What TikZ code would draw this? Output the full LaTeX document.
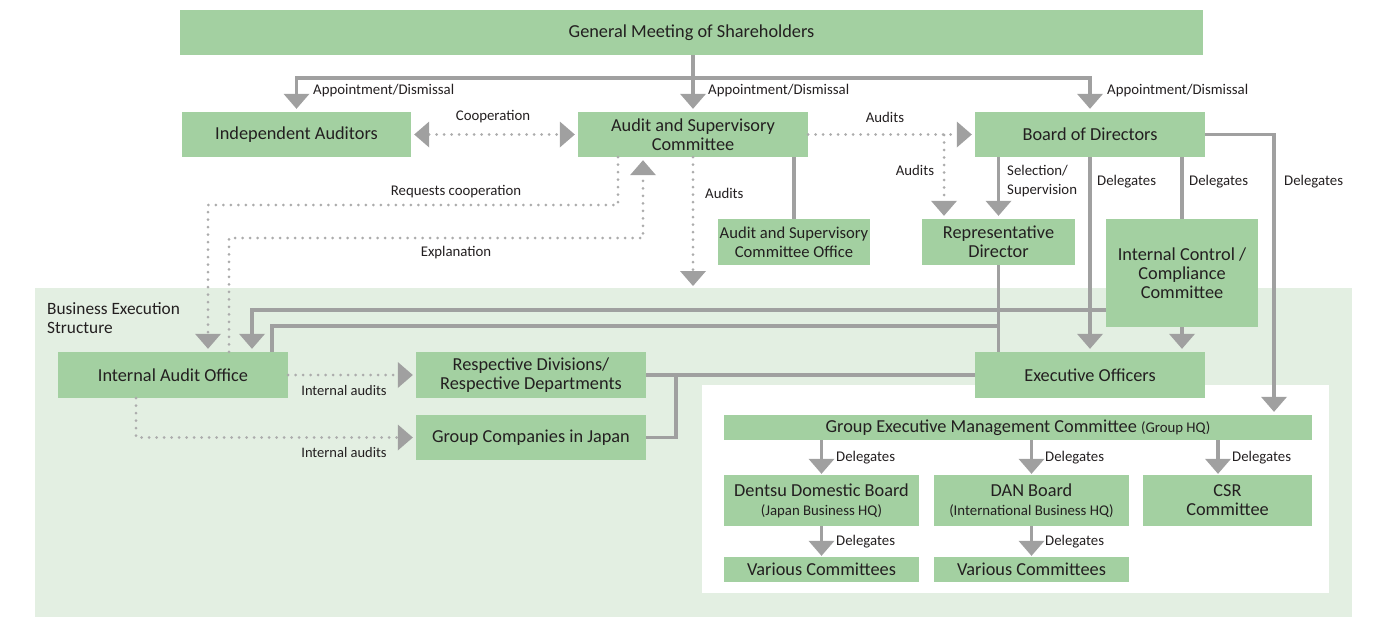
\documentclass[tikz,border=0pt]{standalone}
\usepackage{fontspec}
\setmainfont{Carlito}
\usetikzlibrary{arrows.meta,calc}
\definecolor{boxg}{RGB}{163,208,161}
\definecolor{bgg}{RGB}{227,239,226}
\definecolor{lineg}{RGB}{160,160,160}
\definecolor{dotg}{RGB}{172,172,172}
\definecolor{txt}{RGB}{35,31,32}
\newcommand{\szA}{\fontsize{18.3}{19.2}\selectfont}
\newcommand{\szB}{\fontsize{14.8}{19}\selectfont}
\newcommand{\szC}{\fontsize{14.8}{19}\selectfont}
\tikzset{
  Tri/.tip={Triangle[width=26pt,length=15pt,line width=0pt,color=lineg]},
  box/.style={fill=boxg, inner sep=0pt, align=center, text=txt, font=\szA},
  lbl/.style={inner sep=0pt, text=txt, font=\szB, anchor=west, align=left},
  clbl/.style={inner sep=0pt, text=txt, font=\szB, anchor=center},
  gline/.style={draw=lineg, line width=3.5pt},
  garrow/.style={gline, -{Tri}, shorten >=3pt},
  dline/.style={draw=dotg, line width=3pt, line cap=round, dash pattern=on 0pt off 7.5pt},
  darrow/.style={dline, -{Tri}, shorten >=3pt},
}
\begin{document}
\begin{tikzpicture}[x=1pt,y=-1pt]
\useasboundingbox (0,0) rectangle (1383,633);
% backgrounds
\fill[bgg] (35,288) rectangle (1352,617);
\fill[white] (702,385) rectangle (1329,593);
\node[lbl, font=\fontsize{17.3}{19}\selectfont] (bes) at (47,318) {Business Execution\\Structure};
% nodes
\node[box, minimum width=1023pt, minimum height=45pt] (gm) at (691.5,32.5) {General Meeting of Shareholders};
\node[box, minimum width=229pt, minimum height=45pt] (ia) at (296.5,134.5) {Independent Auditors};
\node[box, minimum width=230pt, minimum height=45pt] (asc) at (693,134.5) {Audit and Supervisory\\Committee};
\node[box, minimum width=230pt, minimum height=45pt] (bod) at (1090,134.5) {Board of Directors};
\node[box, minimum width=152pt, minimum height=46pt, font=\fontsize{16.6}{19}\selectfont] (asco) at (794,242) {Audit and Supervisory\\Committee Office};
\node[box, minimum width=153pt, minimum height=46pt] (rep) at (998.5,242) {Representative\\Director};
\node[box, minimum width=152pt, minimum height=108pt] (icc) at (1182,273) {Internal Control /\\Compliance\\Committee};
\node[box, minimum width=230pt, minimum height=46pt] (iao) at (173,375) {Internal Audit Office};
\node[box, minimum width=230pt, minimum height=46pt] (rdd) at (531,375) {Respective Divisions/\\Respective Departments};
\node[box, minimum width=230pt, minimum height=45pt] (gcj) at (531,437.5) {Group Companies in Japan};
\node[box, minimum width=230pt, minimum height=46pt] (eo) at (1090,375) {Executive Officers};
\node[box, minimum width=588pt, minimum height=25pt] (gemc) at (1018,427.5) {Group Executive Management Committee {\szC (Group HQ)}};
\node[box, minimum width=195pt, minimum height=51pt] (ddb) at (821.5,500.5) {Dentsu Domestic Board\\{\szC (Japan Business HQ)}};
\node[box, minimum width=195pt, minimum height=51pt] (dan) at (1031.5,500.5) {DAN Board\\{\szC (International Business HQ)}};
\node[box, minimum width=169pt, minimum height=51pt] (csr) at (1227.5,500.5) {CSR\\Committee};
\node[box, minimum width=195pt, minimum height=25pt] (vc1) at (821.5,569.5) {Various Committees};
\node[box, minimum width=195pt, minimum height=25pt] (vc2) at (1031.5,569.5) {Various Committees};
% coordinates
\coordinate (bus) at (0,78);
\coordinate (ad) at (944,135);
\coordinate (dl3) at (1274,0);
\coordinate (au) at (693,289);
\coordinate (rc1) at (618,205);
\coordinate (rc2) at (208,205);
\coordinate (ex1) at (229,238);
\coordinate (ex2) at (643,238);
\coordinate (k1) at (272,326);
\coordinate (k2) at (252,310);
\coordinate (g1) at (136,437.5);
\coordinate (j1) at (676,0);
\coordinate (csrx) at (1218,0);
% top connectors
\draw[gline, {Tri}-{Tri}, shorten <=3pt, shorten >=3pt] (ia.north) -- (ia.north |- bus) -- (bod.north |- bus) -- (bod.north);
\draw[garrow] (gm.south -| asc.north) -- (asc.north);
\node[lbl] at (313,91) {Appointment/Dismissal};
\node[lbl] at (708,91) {Appointment/Dismissal};
\node[lbl] at (1107,91) {Appointment/Dismissal};
% cooperation
\draw[dline, {Tri}-{Tri}, shorten <=3pt, shorten >=3pt] (ia.east) -- (asc.west);
\node[clbl] at (493,117) {Cooperation};
% audits to board
\draw[darrow] (asc.east) -- (bod.west);
\node[clbl] at (885,117) {Audits};
\draw[darrow] (ad) -- (rep.north -| ad);
\node[clbl] at (915,170) {Audits};
% selection
\draw[garrow] (bod.south -| rep.north) -- (rep.north);
\node[lbl] at (1007,181.5) {Selection/\\Supervision};
% delegates from board
\draw[garrow] (bod.south) -- (eo.north);
\node[lbl] at (1097,182) {Delegates};
\draw[gline] (bod.south -| icc.north) -- (icc.north);
\node[lbl] at (1189,182) {Delegates};
\draw[garrow] (icc.south) -- (eo.north -| icc.south);
\draw[gline, -{Tri}, shorten >=3pt] (bod.east) -- (bod.east -| dl3) -- (gemc.north -| dl3);
\node[lbl] at (1284,182) {Delegates};
% audit committee office
\draw[gline] (asc.south -| asco.north) -- (asco.north);
% audits down
\draw[darrow] (asc.south) -- (au);
\node[lbl] at (705,193) {Audits};
% requests cooperation
\draw[darrow] (asc.south -| rc1) -- (rc1) -- (rc2) -- (iao.north -| rc2);
\node[clbl] at (456,192) {Requests cooperation};
% explanation
\draw[darrow] (iao.north -| ex1) -- (ex1) -- (ex2) -- (asc.south -| ex2);
\node[clbl] at (456,253) {Explanation};
% representative director lines
\draw[gline] (rep.south) -- (rep.south |- eo.north);
\draw[gline] (rep.south |- k1) -- (k1) -- (iao.north -| k1);
% internal control to internal audit
\draw[garrow] (icc.west |- k2) -- (k2) -- (iao.north -| k2);
% internal audits
\draw[darrow] (iao.east) -- (rdd.west);
\node[clbl, font=\fontsize{14.5}{15}\selectfont] at (344,391) {Internal audits};
\draw[darrow] (iao.south -| g1) -- (g1) -- (gcj.west);
\node[clbl, font=\fontsize{14.5}{15}\selectfont] at (344,453) {Internal audits};
% executive officers to divisions
\draw[gline] (eo.west) -- (rdd.east);
\draw[gline] (gcj.east) -- (gcj.east -| j1) -- (rdd.east -| j1);
% group exec delegates
\draw[garrow, shorten >=1pt] (gemc.south -| ddb.north) -- (ddb.north);
\draw[garrow, shorten >=1pt] (gemc.south -| dan.north) -- (dan.north);
\draw[garrow, shorten >=1pt] (gemc.south -| csrx) -- (csr.north -| csrx);
\node[lbl] at (836,458) {Delegates};
\node[lbl] at (1045,458) {Delegates};
\node[lbl] at (1232,458) {Delegates};
\draw[garrow, shorten >=1pt] (ddb.south) -- (vc1.north);
\draw[garrow, shorten >=1pt] (dan.south) -- (vc2.north);
\node[lbl] at (836,542) {Delegates};
\node[lbl] at (1045,542) {Delegates};
\end{tikzpicture}
\end{document}
